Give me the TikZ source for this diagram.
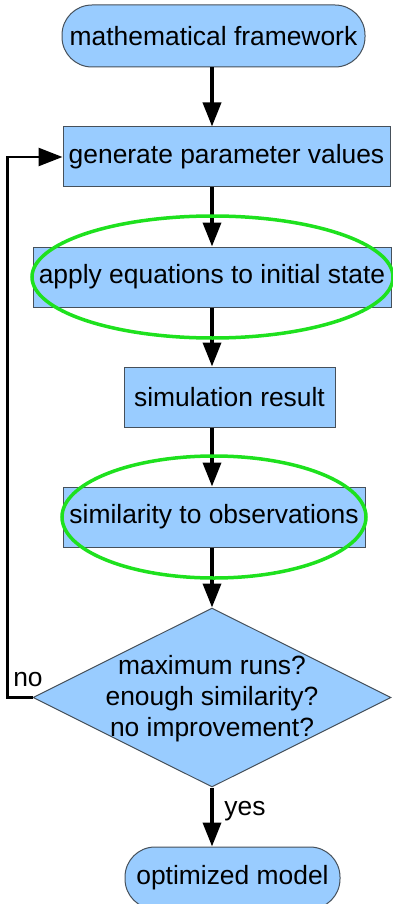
\documentclass[tikz,border=0pt]{standalone}
\usepackage{fontspec}
\setmainfont{Liberation Sans}
\usepackage{xcolor}
\usetikzlibrary{arrows.meta}
\usetikzlibrary{shapes.geometric}
\definecolor{boxblue}{RGB}{153,204,255}
\definecolor{boxline}{RGB}{70,80,90}
\definecolor{ringgreen}{RGB}{30,225,30}
\tikzset{cbox/.style={rectangle,fill=boxblue,draw=boxline,line width=1pt,
    minimum height=60pt,minimum width=#1,inner sep=0pt},
  cterm/.style={cbox=#1,rounded corners=30pt,minimum height=62pt},
  cring/.style={ellipse,draw=ringgreen,line width=3.5pt,minimum width=#1,
    minimum height=122pt,inner sep=0pt},
  cedge/.style={draw=#1}
}

\begin{document}
\begin{tikzpicture}[x=1pt,y=-1pt,font=\fontsize{26.4}{31}\selectfont]
  \useasboundingbox (0,0) rectangle (393,904);
  \begin{scope}[every node/.style={text=black}]
    \node[cterm=303pt] (T1) at (213.5,36) {mathematical framework};
    \node[cbox=327pt] (R1) at (226.5,157) {generate parameter values};
    \node[cbox=358pt] (R2) at (212,277) {apply equations to initial state};
    \node[cbox=211pt] (R3) at (229.5,397) {simulation result};
    \node[cbox=302pt] (R4) at (214,517) {similarity to observations};
    \node[diamond,fill=boxblue,draw=boxline,line width=1pt,inner sep=0pt,
      minimum width=358pt,minimum height=179pt] (D) at (212,697.5) {};
    \node[align=center] (Q) at (212,699) {maximum runs?\\enough similarity?\\no improvement?};
    \node[cterm=215pt] (T2) at (232.5,878) {optimized model};
    \node (no) at (28,680) {no};
    \node (yes) at (245,811) {yes};
  \end{scope}
  % arrows:
  \begin{scope}[>={Triangle[length=24pt,width=18pt]},
                  every edge/.style={draw=black,line width=3.5pt}]
        \path [->] (T1.south -| D.north) edge[cedge=black] (R1.north -| D.north);
        \path [->] (R1.south -| D.north) edge[cedge=black] (R2.north);
        \path [->] (R2.south) edge[cedge=black] (R3.north -| D.north);
        \path [->] (R3.south -| D.north) edge[cedge=black] (R4.north -| D.north);
        \path [->] (R4.south -| D.north) edge[cedge=black] (D.north);
        \path [->] (D.south) edge[cedge=black] (D.south |- T2.north);
        \draw [->,line width=2.5pt] (D.west) -- ++(-25,0) |- (R1.west);
  \end{scope}
  \node[cring=361pt] (E1) at (212.5,277) {};
  \node[cring=304pt] (E2) at (214,517) {};
\end{tikzpicture}
\end{document}
